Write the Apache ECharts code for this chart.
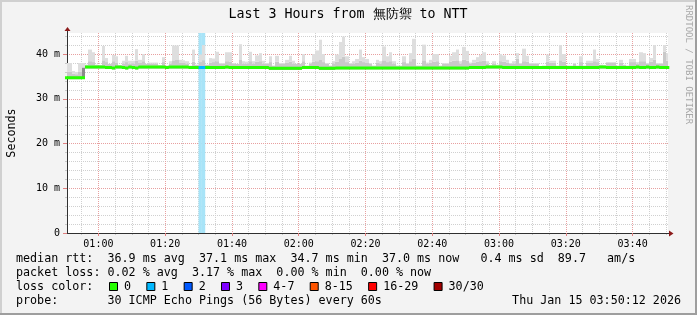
<!DOCTYPE html>
<html><head><meta charset="utf-8">
<script src="https://cdn.jsdelivr.net/npm/echarts@6/dist/echarts.min.js"></script>
<style>html,body{margin:0;padding:0;background:#f3f3f3}#c{width:697px;height:315px}</style>
</head><body><div id="c"></div>
<script>
// ---------------- data ----------------
const titleText = 'Last 3 Hours from 無防禦 to NTT';
const yAxisName = 'Seconds';
const firstMinute = 50;            // column i covers minute (firstMinute+i) .. +1 (minutes after 00:00)
const xRange = [50.6, 230.6];      // 00:50:36 .. 03:50:36
const yRange = [0, 44.7];
const xMajor = [60, 80, 100, 120, 140, 160, 180, 200, 220];
const xMajorLabels = ['01:00','01:20','01:40','02:00','02:20','02:40','03:00','03:20','03:40'];
const xMinor = [55,65,70,75,85,90,95,105,110,115,125,130,135,145,150,155,165,170,175,185,190,195,205,210,215,225,230];
const yMajor = [0, 10, 20, 30, 40];
const yMajorLabels = ['0', '10 m', '20 m', '30 m', '40 m'];
const yMinor = [2,4,6,8,12,14,16,18,22,24,26,28,32,34,36,38,42,44];

const median = [
34.7,34.7,34.7,34.7,34.7,34.7,37.1,37.1,37.1,37.1,
37.1,37.1,37.0,37.0,36.9,37.1,37.1,37.0,36.9,37.1,
37.0,36.9,37.1,37.1,37.1,37.1,37.1,37.1,37.1,37.1,
37.0,37.1,37.1,37.1,37.1,37.1,37.1,37.0,37.0,37.0,
37.0,37.0,37.0,37.0,37.0,37.0,37.0,37.0,37.1,37.0,
37.0,37.0,37.0,37.0,37.0,37.0,37.0,37.0,37.0,37.0,
37.0,36.8,36.8,36.8,36.8,36.8,36.8,36.8,36.8,36.8,
36.8,37.0,37.0,37.0,37.0,37.0,36.8,36.8,36.8,36.8,
36.8,36.9,36.9,36.9,36.9,36.9,36.9,36.9,36.9,36.9,
36.9,36.9,36.9,36.9,36.9,36.9,36.9,36.9,36.9,36.9,
36.9,36.9,36.9,36.9,36.9,36.9,36.9,36.9,36.9,36.9,
36.9,36.9,36.9,36.9,36.9,36.9,36.9,36.9,36.9,36.9,
36.9,37.0,37.0,37.0,37.0,37.0,37.1,37.1,37.1,37.1,
37.1,37.0,37.0,37.0,37.0,37.0,37.0,37.0,37.0,37.0,
37.0,37.0,37.0,37.0,37.0,37.0,37.0,37.0,37.0,37.0,
37.0,37.0,37.0,37.0,37.0,37.0,37.0,37.0,37.0,37.0,
37.1,37.1,37.0,37.0,37.0,37.0,37.0,37.0,37.0,37.0,
37.0,37.1,37.0,37.0,37.1,37.0,37.0,37.1,37.0,37.0,
37.0];

const smokeLow = [
34.4,34.4,34.4,34.4,34.4,34.5,36.8,36.8,36.8,36.8,
36.8,36.8,36.7,36.7,36.6,36.8,36.8,36.7,36.6,36.8,
36.7,36.6,36.8,36.8,36.8,36.8,36.8,36.8,36.8,36.8,
36.7,36.8,36.8,36.8,36.8,36.8,36.8,36.7,36.7,36.7,
36.7,36.7,36.7,36.7,36.7,36.7,36.7,36.7,36.8,36.7,
36.7,36.7,36.7,36.7,36.7,36.7,36.7,36.7,36.7,36.7,
36.7,36.5,36.5,36.5,36.5,36.5,36.5,36.5,36.5,36.5,
36.5,36.7,36.7,36.7,36.7,36.7,36.5,36.5,36.5,36.5,
36.5,36.6,36.6,36.6,36.6,36.6,36.6,36.6,36.6,36.6,
36.6,36.6,36.6,36.6,36.6,36.6,36.6,36.6,36.6,36.6,
36.6,36.6,36.6,36.6,36.6,36.6,36.6,36.6,36.6,36.6,
36.6,36.6,36.6,36.6,36.6,36.6,36.6,36.6,36.6,36.6,
36.6,36.7,36.7,36.7,36.7,36.7,36.8,36.8,36.8,36.8,
36.8,36.7,36.7,36.7,36.7,36.7,36.7,36.7,36.7,36.7,
36.7,36.7,36.7,36.7,36.7,36.7,36.7,36.7,36.7,36.7,
36.7,36.7,36.7,36.7,36.7,36.7,36.7,36.7,36.7,36.7,
36.8,36.8,36.7,36.7,36.7,36.7,36.7,36.7,36.7,36.7,
36.7,36.8,36.7,36.7,36.8,36.7,36.7,36.8,36.7,36.7,
36.7];

const smokeCore = [
35.0,35.0,35.0,35.0,35.0,37.0,37.4,37.4,37.4,37.4,
37.4,37.4,37.3,37.3,37.2,37.4,37.4,37.3,37.2,37.4,
37.3,37.2,37.4,37.4,37.4,37.4,37.4,37.4,37.4,37.4,
37.3,37.4,37.4,37.4,37.4,37.4,37.4,37.3,37.3,37.3,
37.3,37.3,37.3,37.3,37.3,37.3,37.3,37.3,37.4,37.3,
37.3,37.3,37.3,37.3,37.3,37.3,37.3,37.3,37.3,37.3,
37.3,37.1,37.1,37.1,37.1,37.1,37.1,37.1,37.1,37.1,
37.1,37.3,37.3,37.3,37.3,37.3,37.1,37.1,37.1,37.1,
37.1,37.2,37.2,37.2,37.2,37.2,37.2,37.2,37.2,37.2,
37.2,37.2,37.2,37.2,37.2,37.2,37.2,37.2,37.2,37.2,
37.2,37.2,37.2,37.2,37.2,37.2,37.2,37.2,37.2,37.2,
37.2,37.2,37.2,37.2,37.2,37.2,37.2,37.2,37.2,37.2,
37.2,37.3,37.3,37.3,37.3,37.3,37.4,37.4,37.4,37.4,
37.4,37.3,37.3,37.3,37.3,37.3,37.3,37.3,37.3,37.3,
37.3,37.3,37.3,37.3,37.3,37.3,37.3,37.3,37.3,37.3,
37.3,37.3,37.3,37.3,37.3,37.3,37.3,37.3,37.3,37.3,
37.4,37.4,37.3,37.3,37.3,37.3,37.3,37.3,37.3,37.3,
37.3,37.4,37.3,37.3,37.4,37.3,37.3,37.4,37.3,37.3,
37.3];

const smokeMid = [
36.0,36.0,35.6,35.5,36.0,37.0,37.6,38.4,38.2,37.6,
37.5,38.6,38.2,37.8,38.4,38.0,37.4,37.9,38.2,37.9,
37.9,38.5,38.0,38.4,37.8,37.9,37.9,37.9,37.4,38.2,
37.4,37.9,38.6,38.8,38.0,38.0,37.9,37.4,38.3,37.6,
38.2,38.6,37.6,38.1,38.2,38.4,37.8,37.8,38.4,38.3,
37.8,37.8,38.8,37.9,37.9,38.4,37.9,38.3,38.4,37.9,
37.8,38.2,37.4,38.3,37.8,37.8,38.1,38.3,37.9,37.8,
37.8,38.4,37.4,37.9,38.3,38.4,38.8,38.2,37.8,37.4,
37.9,38.3,38.9,39.4,38.2,37.8,37.9,38.1,38.5,38.2,
38.0,37.8,37.4,38.1,37.9,38.6,38.2,38.4,37.9,37.4,
37.4,38.2,37.8,38.4,39.0,37.4,37.4,38.6,37.9,38.1,
38.3,38.4,37.4,37.8,37.8,38.3,38.5,38.6,37.9,38.7,
38.5,37.9,38.1,38.3,38.4,38.5,37.9,37.4,37.9,37.6,
38.4,38.3,38.1,37.8,37.9,39.0,37.8,38.4,38.3,37.8,
37.8,37.8,37.3,37.4,38.3,38.1,38.1,37.4,38.6,38.3,
37.4,37.4,37.8,37.4,38.2,37.4,38.0,38.0,38.4,38.2,
37.6,37.4,38.0,38.0,38.0,37.4,38.1,37.6,37.4,38.2,
38.2,37.9,38.4,38.4,37.8,38.3,38.7,37.8,37.8,40.5,
38.5];

const smokeTop = [
38.0,38.0,36.2,36.0,38.0,38.0,37.6,41.0,40.4,37.6,
37.5,41.8,39.1,37.8,39.8,39.5,37.4,38.5,39.6,38.5,
38.5,41.1,38.7,40.0,37.8,38.1,38.1,38.1,37.4,39.3,
37.4,38.4,41.9,41.9,38.7,38.6,38.4,37.4,41.0,37.6,
39.9,42.0,37.6,39.1,39.0,40.5,38.0,38.0,40.4,40.4,
38.0,37.8,42.2,38.4,38.3,40.5,38.4,39.7,40.2,38.5,
38.0,39.5,37.4,39.6,38.0,38.0,38.7,39.6,38.5,37.8,
37.8,40.0,37.4,38.1,40.0,40.8,43.2,40.0,38.0,37.4,
38.4,39.9,42.7,43.9,39.5,38.0,38.4,38.9,41.0,39.3,
38.9,38.0,37.4,38.7,38.4,41.7,39.5,40.4,38.4,37.4,
37.4,39.5,38.0,40.2,43.4,37.4,37.4,42.1,38.1,38.7,
40.0,40.0,37.4,38.0,38.0,39.6,40.4,41.0,38.4,41.6,
40.7,38.1,38.7,39.3,39.8,40.4,38.4,37.4,38.4,37.6,
40.0,39.7,38.7,38.0,38.4,40.2,38.0,41.2,39.6,38.0,
38.0,38.0,37.3,37.4,39.9,38.5,38.5,37.4,42.0,40.0,
37.4,37.4,38.0,37.4,39.5,37.4,38.5,38.5,41.0,38.9,
37.6,37.4,38.2,38.2,38.2,37.4,38.7,37.6,37.4,38.9,
38.9,38.2,40.4,40.2,38.0,39.1,42.0,38.0,38.0,42.0,
40.2];

const lossMinutes = [90, 91];      // columns with 1/30 packet lost

const legendLines = [
  'median rtt:  36.9 ms avg  37.1 ms max  34.7 ms min  37.0 ms now   0.4 ms sd  89.7   am/s',
  'packet loss: 0.02 % avg  3.17 % max  0.00 % min  0.00 % now'
];
const lossLabel = 'loss color:';
const lossLegendLabels = ['0','1','2','3','4-7','8-15','16-29','30/30'];
const lossLegendColors = ['#26ff00','#00b8ff','#0059ff','#7e00ff','#ff00ff','#ff5500','#ff0000','#a10000'];
const probeText = 'probe:       30 ICMP Echo Pings (56 Bytes) every 60s';
const dateText = 'Thu Jan 15 03:50:12 2026';
const watermark = 'RRDTOOL / TOBI OETIKER';

// ---------------- build ----------------
const MONO = "'DejaVu Sans Mono', monospace";
const SMOKE_COLORS = ['#8a8a8a', '#c9c9c9', '#dedede'];
const smokeData = median.map((_, i) => [firstMinute + i, smokeLow[i], smokeCore[i], smokeMid[i], smokeTop[i]]);

const medData = [];
median.forEach((v, i) => { const m = firstMinute + i; medData.push([m, v], [m + 1, v], [m + 1, '-']); });
const lossMedData = [];
lossMinutes.forEach(m => { const v = median[m - firstMinute]; lossMedData.push([m, v], [m + 1, v], [m + 1, '-']); });

function renderSmoke(params, api) {
  const m = api.value(0);
  const x0 = Math.round(api.coord([m, 0])[0]);
  const x1 = Math.round(api.coord([m + 1, 0])[0]);
  const ys = [1, 2, 3, 4].map(d => api.coord([m, api.value(d)])[1]);
  const children = [];
  for (let k = 0; k < 3; k++) {
    const yb = ys[k], yt = ys[k + 1];
    if (yb - yt <= 0) continue;
    children.push({ type: 'rect', shape: { x: x0, y: yt, width: x1 - x0, height: yb - yt }, style: { fill: SMOKE_COLORS[k] } });
  }
  return { type: 'group', children };
}

const graphics = [];
// frame
graphics.push({ type: 'rect', shape: { x: 0, y: 0, width: 697, height: 2 }, style: { fill: '#d0d0d0' }, silent: true });
graphics.push({ type: 'rect', shape: { x: 0, y: 0, width: 2, height: 315 }, style: { fill: '#d0d0d0' }, silent: true });
graphics.push({ type: 'rect', shape: { x: 0, y: 313, width: 697, height: 2 }, style: { fill: '#9e9e9e' }, silent: true });
graphics.push({ type: 'rect', shape: { x: 695, y: 0, width: 2, height: 315 }, style: { fill: '#9e9e9e' }, silent: true });
// axis extensions + arrows
graphics.push({ type: 'line', shape: { x1: 67.5, y1: 30, x2: 67.5, y2: 33 }, style: { stroke: '#303030', lineWidth: 1 }, silent: true });
graphics.push({ type: 'polygon', shape: { points: [[64.5, 31], [70.5, 31], [67.5, 27]] }, style: { fill: '#8b1a1a' }, silent: true });
graphics.push({ type: 'line', shape: { x1: 668, y1: 233.5, x2: 670, y2: 233.5 }, style: { stroke: '#303030', lineWidth: 1 }, silent: true });
graphics.push({ type: 'polygon', shape: { points: [[669, 230.5], [669, 236.5], [673.5, 233.5]] }, style: { fill: '#8b1a1a' }, silent: true });
// title
graphics.push({ type: 'text', x: 348, y: 15, style: { text: titleText, font: `13.3px ${MONO}`, fill: '#000', textAlign: 'center', textVerticalAlign: 'middle' }, silent: true });
// watermark
graphics.push({ type: 'text', x: 688, y: 5, rotation: -Math.PI / 2, style: { text: watermark, font: `9px ${MONO}`, fill: '#a8a8a8', textAlign: 'left', textVerticalAlign: 'middle' }, silent: true });
// legend lines
const LX = 16, LF = `11.7px ${MONO}`, CW = 7.03;
graphics.push({ type: 'text', x: LX, y: 259, style: { text: legendLines[0], font: LF, fill: '#000', textVerticalAlign: 'middle' }, silent: true });
graphics.push({ type: 'text', x: LX, y: 273, style: { text: legendLines[1], font: LF, fill: '#000', textVerticalAlign: 'middle' }, silent: true });
graphics.push({ type: 'text', x: LX, y: 287, style: { text: lossLabel, font: LF, fill: '#000', textVerticalAlign: 'middle' }, silent: true });
let bx = 109;
lossLegendLabels.forEach((lab, i) => {
  graphics.push({ type: 'rect', shape: { x: bx + 0.5, y: 282.5, width: 8, height: 8 }, style: { fill: lossLegendColors[i], stroke: '#000', lineWidth: 1 }, silent: true });
  graphics.push({ type: 'text', x: bx + 15, y: 287, style: { text: lab, font: LF, fill: '#000', textVerticalAlign: 'middle' }, silent: true });
  bx += 30.3 + lab.length * CW;
});
graphics.push({ type: 'text', x: LX, y: 301, style: { text: probeText, font: LF, fill: '#000', textVerticalAlign: 'middle' }, silent: true });
graphics.push({ type: 'text', x: 681, y: 301, style: { text: dateText, font: LF, fill: '#000', textAlign: 'right', textVerticalAlign: 'middle' }, silent: true });

const chart = echarts.init(document.getElementById('c'), null, { renderer: 'canvas' });
chart.setOption({
  animation: false,
  backgroundColor: '#f3f3f3',
  grid: { left: 67, right: 29, top: 33, bottom: 82, show: true, backgroundColor: '#ffffff', borderWidth: 0, outerBoundsMode: 'none', containLabel: false },
  xAxis: [
    { type: 'value', min: xRange[0], max: xRange[1], position: 'bottom', z: 1,
      axisLine: { show: true, lineStyle: { color: '#303030', width: 1 } },
      axisTick: { show: true, customValues: xMajor, length: 3, lineStyle: { color: '#e08080' } },
      axisLabel: { show: true, customValues: xMajor, formatter: v => xMajorLabels[xMajor.indexOf(v)] || '', fontFamily: MONO, fontSize: 10, color: '#000', margin: 6, hideOverlap: false },
      splitLine: { show: true, lineStyle: { color: '#e8a0a0', type: [1, 1], width: 1 } } },
    { type: 'value', min: xRange[0], max: xRange[1], position: 'bottom', z: 0,
      axisLine: { show: false },
      axisTick: { show: true, customValues: xMinor, length: 2, lineStyle: { color: '#c8c8c8' } },
      axisLabel: { show: false },
      splitLine: { show: true, lineStyle: { color: '#d0d0d0', type: [1, 1], width: 1 } } }
  ],
  yAxis: [
    { type: 'value', min: yRange[0], max: yRange[1], position: 'left', z: 1,
      name: yAxisName, nameLocation: 'middle', nameGap: 49, nameRotate: 90,
      nameTextStyle: { fontFamily: MONO, fontSize: 11.7, color: '#000' },
      axisLine: { show: true, lineStyle: { color: '#303030', width: 1 } },
      axisTick: { show: true, customValues: yMajor, length: 4, lineStyle: { color: '#e08080' } },
      axisLabel: { show: true, customValues: yMajor, formatter: v => yMajorLabels[yMajor.indexOf(v)] || '', fontFamily: MONO, fontSize: 10, color: '#000', margin: 7, hideOverlap: false },
      splitLine: { show: true, lineStyle: { color: '#e8a0a0', type: [1, 1], width: 1 } } },
    { type: 'value', min: yRange[0], max: yRange[1], position: 'left', z: 0,
      axisLine: { show: false },
      axisTick: { show: true, customValues: yMinor, length: 2, lineStyle: { color: '#c8c8c8' } },
      axisLabel: { show: false },
      splitLine: { show: true, lineStyle: { color: '#d0d0d0', type: [1, 1], width: 1 } } }
  ],
  series: [
    { type: 'custom', name: 'smoke', data: smokeData, renderItem: renderSmoke, clip: true, silent: true,
      encode: { x: 0, y: [1, 2, 3, 4] }, z: 2, animation: false,
      markArea: { silent: true, itemStyle: { color: '#a8e4f8' },
        data: lossMinutes.map(m => [{ xAxis: m }, { xAxis: m + 1 }]) } },
    { type: 'line', name: 'median', data: medData, symbol: 'none', clip: true, connectNulls: false, silent: true,
      lineStyle: { color: '#26ff00', width: 3, cap: 'butt' }, z: 3, animation: false },
    { type: 'line', name: 'median-loss', data: lossMedData, symbol: 'none', clip: true, connectNulls: false, silent: true,
      lineStyle: { color: '#00b8ff', width: 3, cap: 'butt' }, z: 4, animation: false }
  ],
  graphic: graphics
});
</script></body></html>
